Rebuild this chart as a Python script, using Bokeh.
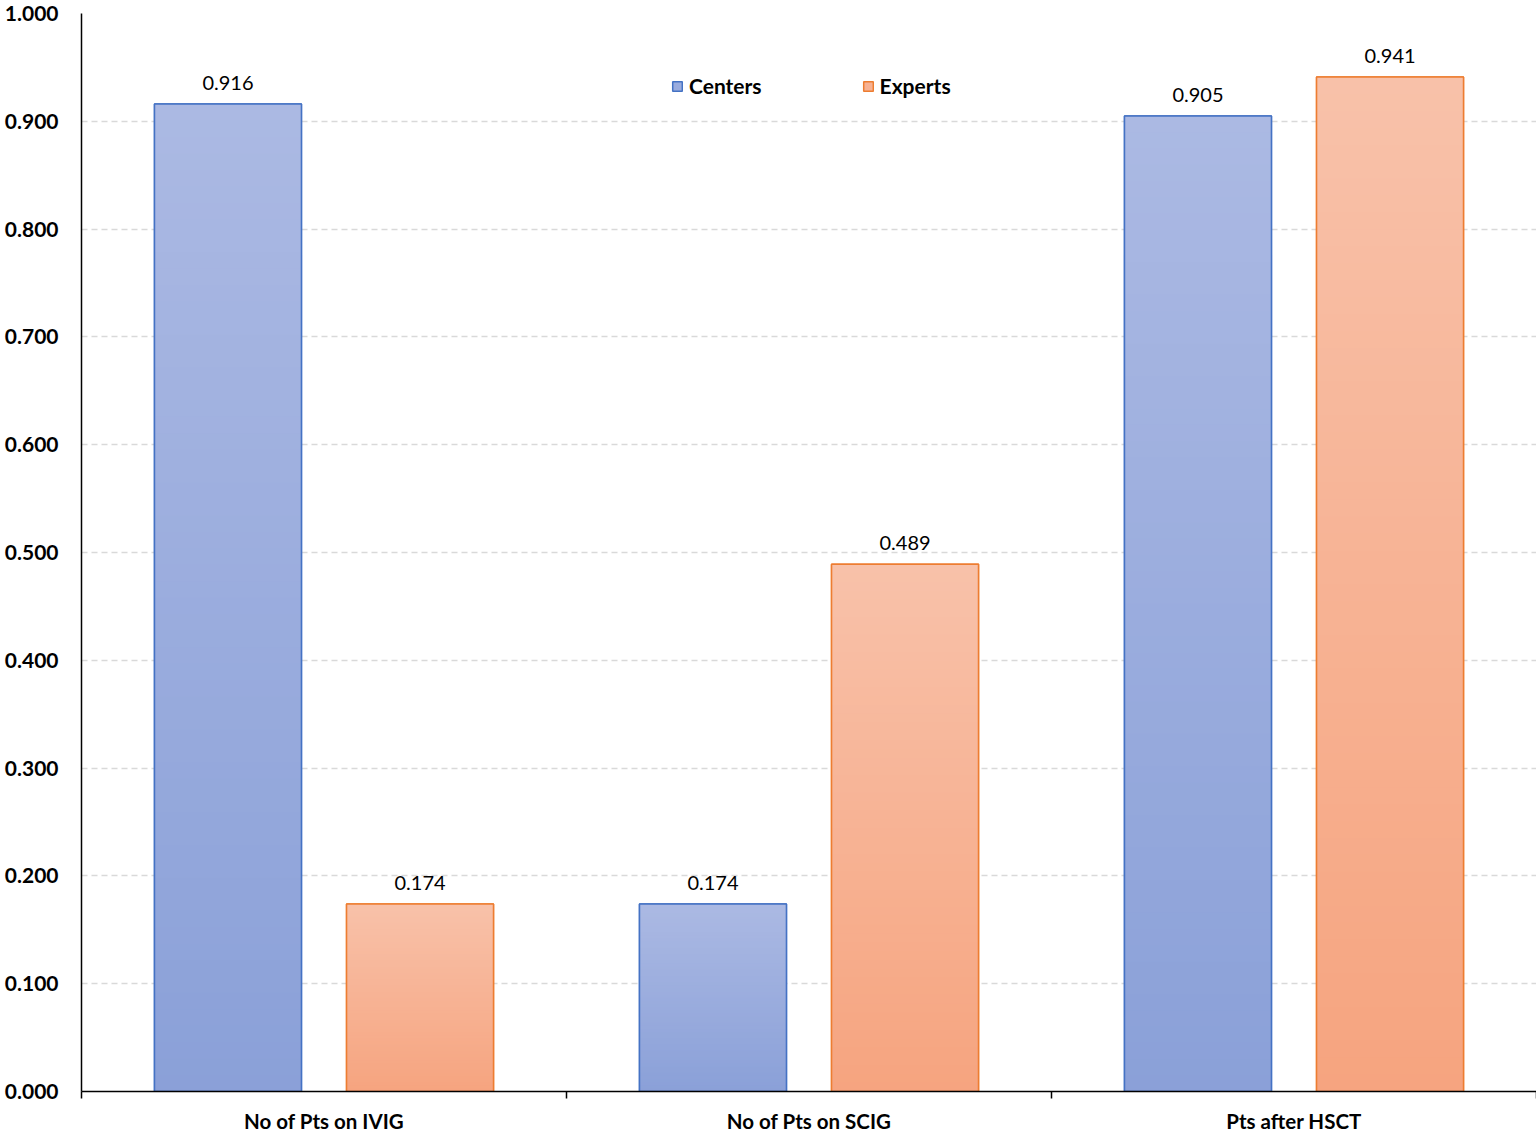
import numpy as np
from bokeh.plotting import figure
from bokeh.models import (ColumnDataSource, FixedTicker, NumeralTickFormatter,
                          Legend, LegendItem, Range1d)
from bokeh.core.properties import value
from bokeh.embed import file_html
from bokeh.resources import INLINE

# ---------------- data ----------------
categories = ["No of Pts on IVIG", "No of Pts on SCIG", "Pts after HSCT"]
centers_vals = [0.916, 0.174, 0.905]
experts_vals = [0.174, 0.489, 0.941]
series_names = ["Centers", "Experts"]
y_ticks = [0.0, 0.1, 0.2, 0.3, 0.4, 0.5, 0.6, 0.7, 0.8, 0.9, 1.0]

# ---------------- style ----------------
FONT = "Lato"
BLUE_TOP, BLUE_BOT, BLUE_LINE = "#ABB9E3", "#8AA0D8", "#4472C4"
ORNG_TOP, ORNG_BOT, ORNG_LINE = "#F8C1A9", "#F6A47F", "#ED7D31"
OFFSET, BAR_W, NSLICE = 0.198, 0.303, 60


def hx(c):
    c = c.lstrip("#")
    return np.array([int(c[i:i + 2], 16) for i in (0, 2, 4)], dtype=float)


def blend(c_bot, c_top, t):
    a, b = hx(c_bot), hx(c_top)
    r = a + (b - a) * t
    return "#%02x%02x%02x" % tuple(int(round(v)) for v in r)


p = figure(width=1536, height=1136, output_backend="svg", toolbar_location=None,
           x_range=Range1d(0, len(categories)), y_range=Range1d(0, 1.0),
           min_border_left=81, min_border_right=0, min_border_top=13,
           min_border_bottom=45)
p.outline_line_color = None
p.background_fill_color = "white"

centers_x = [i + 0.5 - OFFSET for i in range(len(categories))]
experts_x = [i + 0.5 + OFFSET for i in range(len(categories))]

legend_items = []
for name, xs, vals, ctop, cbot, cline in [
        (series_names[0], centers_x, centers_vals, BLUE_TOP, BLUE_BOT, BLUE_LINE),
        (series_names[1], experts_x, experts_vals, ORNG_TOP, ORNG_BOT, ORNG_LINE)]:
    base = p.vbar(x=xs, top=vals, bottom=0, width=BAR_W,
                  fill_color=blend(cbot, ctop, 0.5), line_color=cline, line_width=1.5)
    sx, stop, scol = [], [], []
    for k in range(NSLICE):
        frac = (NSLICE - k) / NSLICE
        col = blend(cbot, ctop, frac)
        for x, v in zip(xs, vals):
            sx.append(x)
            stop.append(v * frac)
            scol.append(col)
    src = ColumnDataSource(dict(x=sx, top=stop, color=scol))
    p.vbar(x="x", top="top", bottom=0, width=BAR_W, source=src,
           fill_color="color", line_color=None)
    p.vbar(x=xs, top=vals, bottom=0, width=BAR_W, fill_color=None,
           line_color=cline, line_width=1.5)
    p.text(x=xs, y=vals, text=["%.3f" % v for v in vals], text_align="center",
           text_baseline="bottom", y_offset=-14, text_font=value(FONT),
           text_font_size="20px", text_color="#000000")
    legend_items.append(LegendItem(label=name, renderers=[base]))

legend = Legend(items=legend_items, orientation="horizontal",
                location=(590, 993), padding=0, margin=0, spacing=100,
                glyph_width=12, glyph_height=12, label_standoff=6,
                border_line_color=None, background_fill_alpha=0,
                label_text_font=FONT, label_text_font_style="bold",
                label_text_font_size="21px", label_text_color="#000000")
p.add_layout(legend, "center")

# y axis
p.yaxis.ticker = FixedTicker(ticks=y_ticks)
p.yaxis.formatter = NumeralTickFormatter(format="0.000")
p.yaxis.major_tick_line_color = None
p.yaxis.minor_tick_line_color = None
p.yaxis.major_tick_in = 0
p.yaxis.major_tick_out = 0
p.yaxis.major_label_standoff = 23
p.yaxis.axis_line_color = "#000000"
p.yaxis.axis_line_width = 1.5
p.yaxis.major_label_text_font = FONT
p.yaxis.major_label_text_font_style = "bold"
p.yaxis.major_label_text_font_size = "21px"
p.yaxis.major_label_text_color = "#000000"

# x axis
p.xaxis.ticker = FixedTicker(ticks=[i + 0.5 for i in range(len(categories))],
                             minor_ticks=list(range(len(categories) + 1)))
p.xaxis.major_label_overrides = {i + 0.5: c for i, c in enumerate(categories)}
p.xaxis.major_tick_line_color = None
p.xaxis.major_tick_in = 0
p.xaxis.major_tick_out = 0
p.xaxis.minor_tick_in = 0
p.xaxis.minor_tick_out = 7
p.xaxis.minor_tick_line_color = "#000000"
p.xaxis.minor_tick_line_width = 1.5
p.xaxis.axis_line_color = "#000000"
p.xaxis.axis_line_width = 1.5
p.xaxis.major_label_standoff = 10
p.xaxis.major_label_text_font = FONT
p.xaxis.major_label_text_font_style = "bold"
p.xaxis.major_label_text_font_size = "20.5px"
p.xaxis.major_label_text_color = "#000000"

# grid
p.xgrid.grid_line_color = None
p.ygrid.ticker = FixedTicker(ticks=y_ticks)
p.ygrid.grid_line_color = "#d9d9d9"
p.ygrid.grid_line_dash = "6 4"
p.ygrid.grid_line_width = 1.5

open("out.html", "w").write(file_html(p, INLINE))
